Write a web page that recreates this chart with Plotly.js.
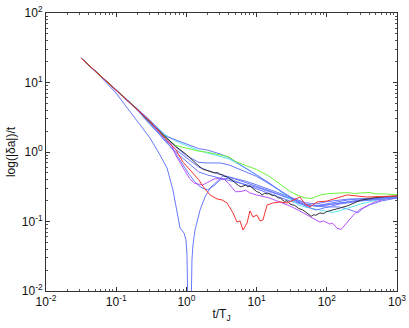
<!DOCTYPE html>
<html>
<head>
<meta charset="utf-8">
<script src="https://cdn.plot.ly/plotly-3.0.1.min.js"></script>
<style>
  html, body { margin: 0; padding: 0; background: white; }
  #chart { width: 409px; height: 328px; }
</style>
</head>
<body>
<div id="chart"></div>
<script>
// values (log-log, t/T_J vs log(|da|)/t)
var greenT = [0.0315, 0.05, 0.1, 0.2, 0.3, 0.5, 0.7, 1, 1.5, 2, 3, 4, 5, 7, 10, 15, 20, 25, 30, 40, 50, 60, 70, 80, 100, 120, 150, 200, 250, 300, 400, 500, 700, 1000];
var greenV = [22.5, 14.8, 7.8, 4.1, 2.70, 1.64, 1.24, 1.13, 1.03, 0.99, 0.92, 0.855, 0.73, 0.645, 0.56, 0.45, 0.36, 0.307, 0.27, 0.234, 0.218, 0.214, 0.227, 0.24, 0.25, 0.255, 0.257, 0.26, 0.252, 0.257, 0.262, 0.25, 0.249, 0.241];

var blueA1T = [0.0315, 0.05, 0.1, 0.2, 0.3, 0.5, 0.7, 1, 1.5, 2, 3, 4, 5, 7, 10, 15, 20, 30, 40, 50, 70, 100, 150, 200, 300, 500, 1000];
var blueA1V = [22.5, 14.7, 7.8, 4.15, 2.89, 1.70, 1.49, 1.29, 1.12, 1.065, 0.94, 0.835, 0.73, 0.59, 0.468, 0.36, 0.293, 0.22, 0.187, 0.173, 0.168, 0.179, 0.195, 0.204, 0.212, 0.217, 0.225];

var blueA2T = [0.0315, 0.05, 0.1, 0.2, 0.3, 0.5, 0.7, 1, 1.5, 2, 3, 4, 5, 7, 10, 15, 20, 30, 40, 50, 70, 80, 100, 150, 200, 300, 500, 1000];
var blueA2V = [22.5, 14.6, 7.7, 4.05, 2.8, 1.66, 1.19, 0.885, 0.71, 0.695, 0.695, 0.655, 0.60, 0.52, 0.445, 0.35, 0.293, 0.225, 0.188, 0.166, 0.146, 0.151, 0.159, 0.178, 0.186, 0.197, 0.206, 0.218];

var blueC1T = [0.0315, 0.05, 0.1, 0.2, 0.3, 0.5, 0.7, 1, 1.5, 2, 3, 5, 7, 10, 15, 20, 30, 50, 70, 100, 200, 400, 1000];
var blueC1V = [22.5, 14.7, 7.75, 4.1, 2.7, 1.51, 1.09, 0.82, 0.606, 0.543, 0.475, 0.415, 0.38, 0.337, 0.29, 0.262, 0.222, 0.186, 0.179, 0.193, 0.21, 0.214, 0.225];

var blueC2T = [0.0315, 0.05, 0.1, 0.2, 0.3, 0.5, 0.7, 1, 1.5, 2, 3, 5, 7, 10, 15, 20, 30, 50, 70, 100, 150, 200, 250, 280, 320, 400, 600, 1000];
var blueC2V = [22.5, 14.7, 7.7, 4.05, 2.6, 1.42, 1.0, 0.74, 0.516, 0.467, 0.42, 0.37, 0.344, 0.31, 0.27, 0.247, 0.218, 0.179, 0.166, 0.162, 0.162, 0.151, 0.14, 0.133, 0.152, 0.173, 0.197, 0.218];

var blueDT = [0.0315, 0.05, 0.1, 0.2, 0.3, 0.5, 0.7, 0.9, 1.1, 1.3, 1.5, 1.7, 2, 2.5, 3, 3.5, 4, 5, 7, 10, 15, 20, 30, 50, 70, 100, 200, 400, 1000];
var blueDV = [22.5, 14.6, 7.7, 4.0, 2.5, 1.50, 0.96, 0.645, 0.474, 0.38, 0.326, 0.302, 0.286, 0.33, 0.396, 0.412, 0.42, 0.38, 0.336, 0.298, 0.258, 0.232, 0.197, 0.171, 0.169, 0.174, 0.187, 0.206, 0.218];

// this one drops to zero (log of 0) just after t = 1, so it leaves the axis
var blueBT = [0.0315, 0.0587, 0.0993, 0.1426, 0.218, 0.303, 0.421, 0.530, 0.644, 0.711, 0.811, 0.925, 0.986, 1.02, 1.054, 1.163, 1.20, 1.24, 1.326, 1.563, 1.84, 2.17, 2.73, 3.32, 4.92, 8.05, 15.5, 30, 48.9, 80, 154, 297, 1000];
var blueBV = [22.5, 12.4, 7.06, 4.30, 2.45, 1.59, 0.905, 0.589, 0.284, 0.173, 0.0806, 0.0683, 0.0542, 0.033, 0.004, 0.004, 0.0279, 0.0459, 0.0754, 0.146, 0.225, 0.303, 0.370, 0.452, 0.41, 0.346, 0.275, 0.211, 0.173, 0.167, 0.185, 0.204, 0.225];

var cyanT = [0.0315, 0.05, 0.1, 0.2, 0.3, 0.5, 0.7, 1, 1.5, 2, 3, 4, 5, 7, 10, 15, 20, 30, 40, 50, 60, 80, 100, 120, 150, 200, 300, 500, 700, 1000];
var cyanV = [22.5, 14.7, 7.75, 4.1, 2.8, 1.77, 1.44, 1.24, 1.05, 0.967, 0.87, 0.80, 0.71, 0.58, 0.467, 0.355, 0.29, 0.211, 0.172, 0.161, 0.155, 0.146, 0.137, 0.135, 0.142, 0.155, 0.178, 0.202, 0.218, 0.225];

var blackT = [0.0315, 0.05, 0.1, 0.2, 0.3, 0.5, 0.7, 1, 1.3, 1.5, 1.7, 2, 2.3, 2.5, 2.8, 3, 3.3, 3.5, 3.8, 4, 4.5, 5, 5.5, 6, 6.5, 7, 7.5, 8, 8.5, 9, 9.5, 10, 11, 12, 13, 14, 15, 17, 18, 20, 22, 25, 27, 30, 35, 40, 45, 50, 55, 60, 65, 70, 80, 90, 100, 120, 150, 200, 250, 300, 400, 500, 700, 1000];
var blackV = [22.5, 14.7, 7.75, 4.1, 2.70, 1.63, 1.21, 0.92, 0.71, 0.63, 0.57, 0.535, 0.52, 0.50, 0.505, 0.48, 0.47, 0.447, 0.44, 0.418, 0.39, 0.352, 0.33, 0.315, 0.33, 0.335, 0.315, 0.325, 0.31, 0.295, 0.285, 0.27, 0.26, 0.241, 0.255, 0.25, 0.252, 0.235, 0.24, 0.22, 0.215, 0.194, 0.2, 0.178, 0.17, 0.153, 0.148, 0.136, 0.128, 0.119, 0.125, 0.123, 0.133, 0.13, 0.139, 0.145, 0.155, 0.169, 0.185, 0.202, 0.212, 0.221, 0.228, 0.233];

var redT = [0.0315, 0.05, 0.1, 0.2, 0.3, 0.5, 0.7, 0.9, 1.1, 1.3, 1.5, 1.72, 2.17, 2.73, 3.22, 3.79, 4.61, 5.26, 5.80, 6.40, 7.30, 8.05, 8.89, 10.1, 11.2, 12.3, 14.1, 17.1, 21.5, 27.1, 33.0, 41.5, 48.9, 57.6, 72.5, 101, 140, 194, 269, 374, 1000];
var redV = [22.5, 14.7, 7.75, 4.1, 2.8, 1.56, 1.09, 0.71, 0.565, 0.475, 0.40, 0.32, 0.241, 0.211, 0.204, 0.185, 0.133, 0.098, 0.102, 0.0754, 0.095, 0.142, 0.116, 0.124, 0.102, 0.105, 0.173, 0.185, 0.191, 0.185, 0.204, 0.225, 0.179, 0.162, 0.191, 0.197, 0.218, 0.241, 0.233, 0.225, 0.233];

var purpleT = [0.0315, 0.05, 0.1, 0.2, 0.3, 0.5, 0.6, 0.7, 0.9, 1.1, 1.3, 1.7, 2, 2.5, 3, 3.5, 4, 5, 6, 7, 8, 10, 15, 20, 30, 40, 50, 60, 80, 90, 110, 120, 140, 160, 180, 200, 250, 300, 400, 500, 700, 1000];
var purpleV = [22.5, 14.7, 7.7, 4.05, 2.7, 1.60, 1.34, 0.91, 0.58, 0.42, 0.355, 0.335, 0.365, 0.41, 0.415, 0.40, 0.352, 0.268, 0.27, 0.283, 0.258, 0.241, 0.219, 0.197, 0.167, 0.144, 0.127, 0.113, 0.098, 0.102, 0.092, 0.095, 0.080, 0.077, 0.088, 0.099, 0.13, 0.150, 0.176, 0.194, 0.212, 0.225];

var xTickVals = [0.01, 0.1, 1, 10, 100, 1000];
var xTickText = ['10<sup>-2</sup>', '10<sup>-1</sup>', '10<sup>0</sup>', '10<sup>1</sup>', '10<sup>2</sup>', '10<sup>3</sup>'];
var yTickVals = [0.01, 0.1, 1, 10, 100];
var yTickText = ['10<sup>-2</sup>', '10<sup>-1</sup>', '10<sup>0</sup>', '10<sup>1</sup>', '10<sup>2</sup>'];

var blue = 'rgb(105,120,255)';

function line(x, y, color) {
    return {x: x, y: y, type: 'scatter', mode: 'lines', line: {color: color, width: 1}, hoverinfo: 'skip'};
}

var data = [
    line(blueBT, blueBV, blue),
    line(blueDT, blueDV, blue),
    line(blueC2T, blueC2V, blue),
    line(blueC1T, blueC1V, blue),
    line(purpleT, purpleV, 'rgb(185,80,255)'),
    line(cyanT, cyanV, 'rgb(90,230,235)'),
    line(blueA2T, blueA2V, blue),
    line(blueA1T, blueA1V, blue),
    line(greenT, greenV, 'rgb(110,245,60)'),
    line(blackT, blackV, 'rgb(50,50,50)'),
    line(redT, redV, 'rgb(245,50,50)')
];

var axisCommon = {
    type: 'log',
    showgrid: false,
    zeroline: false,
    showline: true,
    linecolor: '#333',
    linewidth: 1,
    mirror: 'ticks',
    ticks: 'inside',
    ticklen: 4,
    tickcolor: '#333',
    tickfont: {size: 12, color: '#111'},
    minor: {ticks: 'inside', ticklen: 2, tickcolor: '#555', dtick: 'D1', showgrid: false}
};

var layout = {
    width: 409,
    height: 328,
    margin: {l: 46, r: 12, t: 13, b: 37},
    paper_bgcolor: 'white',
    plot_bgcolor: 'white',
    showlegend: false,
    font: {family: 'Liberation Sans, Arial, sans-serif', size: 11, color: '#111'},
    xaxis: Object.assign({}, axisCommon, {
        range: [-2, 3],
        tickvals: xTickVals,
        ticktext: xTickText,
        title: {text: 't/T<sub>J</sub>', standoff: 1, font: {size: 12}}
    }),
    yaxis: Object.assign({}, axisCommon, {
        range: [-2, 2],
        tickvals: yTickVals,
        ticktext: yTickText,
        title: {text: 'log(|δa|)/t', standoff: 3, font: {size: 12}}
    })
};

Plotly.newPlot('chart', data, layout, {displayModeBar: false, staticPlot: true});
</script>
</body>
</html>
